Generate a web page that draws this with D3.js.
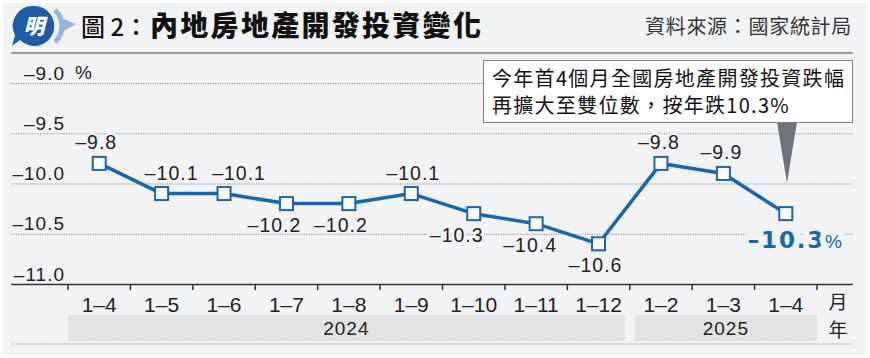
<!DOCTYPE html>
<html>
<head>
<meta charset="utf-8">
<script src="https://cdn.jsdelivr.net/npm/d3@7"></script>
<style>
  html, body { margin: 0; padding: 0; background: #ffffff; }
  svg { display: block; }
</style>
</head>
<body>
<div id="chart"></div>
<script>
// 數據：內地房地產開發投資累計按年變化 (%)
const months = ["1–4", "1–5", "1–6", "1–7", "1–8", "1–9", "1–10", "1–11", "1–12", "1–2", "1–3", "1–4 "];
const values = [-9.8, -10.1, -10.1, -10.2, -10.2, -10.1, -10.3, -10.4, -10.6, -9.8, -9.9, -10.3];
const years = ["2024", "2025"];
const yearSpans = [[0, 8], [9, 11]];   // index range of months per year
const yTicks = [-9.0, -9.5, -10.0, -10.5, -11.0];

// label placement (style only)
const labelSide = ["up", "up", "up", "down", "down", "up", "down", "down", "down", "up", "up", "big"];
const labelDx = [-3, 10, 15, -12, -8, 2, -17, -6, -3, -2, -2, -38];

const W = 870, H = 358;
const BG = "#f2f3f5";
const BLUE = "#1467b3";
const NUM = "'Liberation Sans', Arial, sans-serif";
const CJK = "'Noto Sans CJK TC', 'Noto Sans CJK SC', sans-serif";

const svg = d3.select("#chart").append("svg")
    .attr("width", W).attr("height", H);

svg.append("rect").attr("x", 3).attr("y", 3).attr("width", W - 6).attr("height", H - 6).attr("fill", BG);

// ---- 標題 ----
const logo = svg.append("g");
logo.append("path")
    .attr("d", "M34,6 A20,20 0 1 1 20,40 L12,46 L15,35 A20,20 0 0 1 34,6 Z")
    .attr("fill", "#1c5ca8");
logo.append("path")
    .attr("d", "M55,10 A22,22 0 0 1 55,42")
    .attr("fill", "none").attr("stroke", "#93b5e0").attr("stroke-width", 5);
logo.append("path")
    .attr("d", "M61,18 L76,24 L62,32 Z")
    .attr("fill", "#93b5e0");
logo.append("text")
    .attr("x", 34).attr("y", 34).attr("text-anchor", "middle")
    .attr("font-family", CJK).attr("font-weight", 900).attr("font-size", 21)
    .attr("font-style", "italic").attr("fill", "#fff")
    .text("明");

svg.append("text")
    .attr("x", 81).attr("y", 36)
    .attr("font-family", CJK).attr("font-size", 24).attr("font-weight", 500).attr("fill", "#111")
    .text("圖 2：");
svg.append("text")
    .attr("x", 150).attr("y", 36)
    .attr("font-family", CJK).attr("font-size", 28).attr("font-weight", 900).attr("fill", "#111")
    .attr("letter-spacing", 2.3)
    .text("內地房地產開發投資變化");
svg.append("text")
    .attr("x", 852).attr("y", 34).attr("text-anchor", "end")
    .attr("font-family", CJK).attr("font-size", 20).attr("fill", "#333")
    .attr("letter-spacing", 0.7)
    .text("資料來源：國家統計局");

// 上方分隔線
svg.append("line")
    .attr("x1", 11).attr("x2", 853).attr("y1", 53).attr("y2", 53)
    .attr("stroke", "#9a9a9a").attr("stroke-width", 2);

// ---- 比例尺 ----
const x = d3.scaleBand().domain(months).range([68, 817]).padding(0);
const y = d3.scaleLinear().domain([-11, -9]).range([284, 83]);
const bw = x.bandwidth();
const cx = d => x(d) + bw / 2;

const fmt = d => (d < 0 ? "–" : "") + d3.format(".1f")(Math.abs(d));

// ---- Y 軸與網格 ----
const yAxis = svg.append("g")
    .attr("transform", "translate(11,0)")
    .call(d3.axisRight(y).tickValues(yTicks).tickSize(842).tickFormat(fmt));
yAxis.select(".domain").remove();
yAxis.selectAll(".tick line")
    .attr("stroke", d => d === -11 ? "#333" : "#8a8a8a")
    .attr("stroke-width", d => d === -11 ? 1.5 : 1)
    .attr("stroke-dasharray", d => d === -11 ? null : "1.2,1.2");
yAxis.selectAll(".tick text")
    .attr("x", 54).attr("dy", null).attr("y", -4)
    .attr("text-anchor", "end")
    .attr("font-family", NUM).attr("font-size", 19).attr("letter-spacing", 1)
    .attr("fill", "#222");
svg.append("text")
    .attr("x", 75).attr("y", y(-9) - 4)
    .attr("font-family", NUM).attr("font-size", 19).attr("fill", "#222")
    .text("%");

// ---- X 軸 ----
const bounds = months.map(d => x(d)).concat([x.range()[1]]);
svg.append("g").selectAll("line").data(bounds).join("line")
    .attr("x1", d => d).attr("x2", d => d)
    .attr("y1", y(-11)).attr("y2", y(-11) + 6)
    .attr("stroke", "#333").attr("stroke-width", 1.5);

svg.append("g").selectAll("text").data(months).join("text")
    .attr("x", d => cx(d)).attr("y", 312)
    .attr("text-anchor", "middle")
    .attr("font-family", NUM).attr("font-size", 21).attr("fill", "#222")
    .text(d => d.trim());

svg.append("text")
    .attr("x", 838).attr("y", 309).attr("text-anchor", "middle")
    .attr("font-family", CJK).attr("font-size", 19).attr("fill", "#222")
    .text("月");
svg.append("text")
    .attr("x", 838).attr("y", 337).attr("text-anchor", "middle")
    .attr("font-family", CJK).attr("font-size", 19).attr("fill", "#222")
    .text("年");

// 年份色帶
const yearG = svg.append("g");
yearSpans.forEach((s, i) => {
    let x0 = x(months[s[0]]);
    let x1 = x(months[s[1]]) + bw;
    if (i > 0) x0 += 5;
    if (i < yearSpans.length - 1) x1 -= 5;
    yearG.append("rect")
        .attr("x", x0).attr("y", 315).attr("width", x1 - x0).attr("height", 26)
        .attr("fill", "#e2e3e5");
    yearG.append("text")
        .attr("x", (x0 + x1) / 2).attr("y", 335).attr("text-anchor", "middle")
        .attr("font-family", NUM).attr("font-size", 19).attr("letter-spacing", 1)
        .attr("fill", "#222")
        .text(years[i]);
});

svg.append("line")
    .attr("x1", 11).attr("x2", 853).attr("y1", 344).attr("y2", 344)
    .attr("stroke", "#8a8a8a").attr("stroke-dasharray", "1.2,1.2");

// ---- 註解框 ----
svg.append("path")
    .attr("d", "M777,122 L797,122 L787,183 Z")
    .attr("fill", "#6d757b");
svg.append("rect")
    .attr("x", 483.5).attr("y", 60.5).attr("width", 369).attr("height", 62)
    .attr("fill", "#fff").attr("stroke", "#808080").attr("stroke-width", 1);
const note = svg.append("text")
    .attr("font-family", CJK).attr("font-size", 20).attr("fill", "#111")
    .attr("letter-spacing", 1.3);
note.append("tspan").attr("x", 492).attr("y", 86).text("今年首4個月全國房地產開發投資跌幅");
note.append("tspan").attr("x", 492).attr("y", 113).text("再擴大至雙位數，按年跌10.3%");

// ---- 數據標籤 ----
const labels = svg.append("g");
values.forEach((v, i) => {
    const px = cx(months[i]), py = y(v);
    if (labelSide[i] === "big") {
        const t = labels.append("text")
            .attr("x", px + labelDx[i]).attr("y", py + 34)
            .attr("fill", BLUE)
            .attr("stroke", BG).attr("stroke-width", 12).attr("paint-order", "stroke")
            .attr("stroke-linejoin", "round");
        t.append("tspan")
            .attr("font-family", "'DejaVu Sans', sans-serif").attr("font-weight", "bold")
            .attr("font-size", 23).attr("letter-spacing", 1.8)
            .text(fmt(v));
        t.append("tspan")
            .attr("font-family", NUM).attr("font-size", 19)
            .text("%");
        return;
    }
    labels.append("text")
        .attr("x", px + labelDx[i])
        .attr("y", labelSide[i] === "up" ? py - 14 : py + 28.5)
        .attr("text-anchor", "middle")
        .attr("font-family", NUM).attr("font-size", 19.5).attr("letter-spacing", 1)
        .attr("fill", "#222")
        .attr("stroke", BG).attr("stroke-width", 4).attr("paint-order", "stroke")
        .text(fmt(v));
});

// ---- 折線 ----
const line = d3.line().x((d, i) => cx(months[i])).y(d => y(d));
svg.append("path")
    .datum(values)
    .attr("d", line)
    .attr("fill", "none").attr("stroke", BLUE).attr("stroke-width", 3.5)
    .attr("stroke-linejoin", "round");

svg.append("g").selectAll("rect").data(values).join("rect")
    .attr("x", (d, i) => cx(months[i]) - 6.5)
    .attr("y", d => y(d) - 6.5)
    .attr("width", 13).attr("height", 13)
    .attr("fill", "#fff").attr("stroke", BLUE).attr("stroke-width", 2);
</script>
</body>
</html>
